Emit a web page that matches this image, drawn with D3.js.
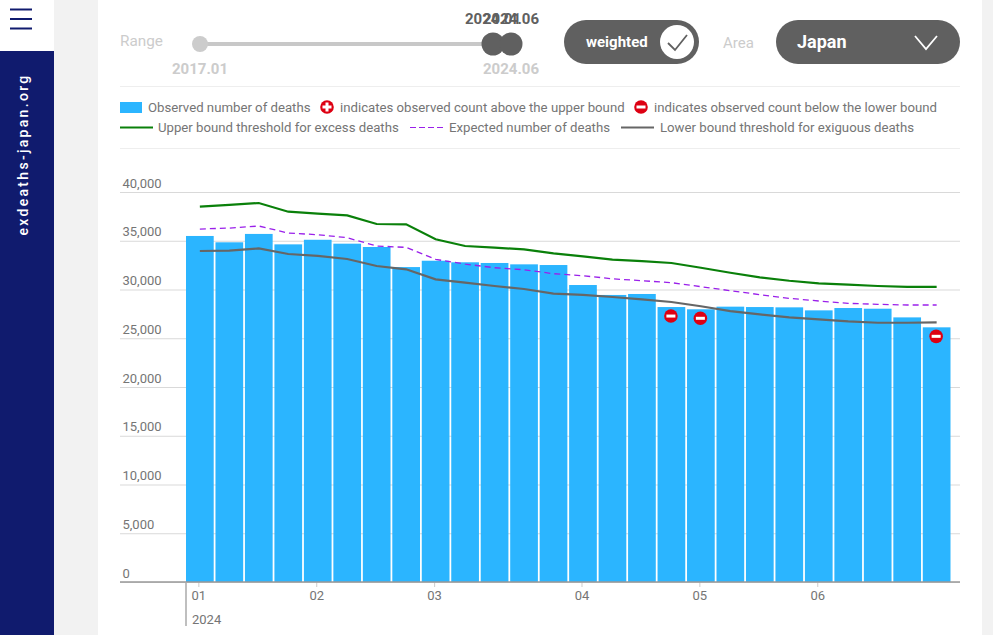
<!DOCTYPE html>
<html><head><meta charset="utf-8">
<script src="https://cdn.jsdelivr.net/npm/d3@7"></script>
<style>
html,body{margin:0;padding:0;background:#f2f2f2;overflow:hidden}
svg{display:block;font-family:Roboto,sans-serif}
</style></head><body>
<svg id="c" width="993" height="635"></svg>
<script>
const weeks = d3.range(0,26);
const observed = [35490,34840,35700,34630,35100,34700,34360,32300,32950,32790,32720,32580,32510,30460,29440,29540,28200,27970,28240,28200,28170,27860,28100,28030,27140,26120];
const upper = [38490,38670,38870,37980,37780,37600,36720,36680,35150,34460,34290,34120,33700,33390,33060,32920,32720,32230,31720,31250,30900,30630,30490,30360,30260,30260];
const expected = [36200,36300,36510,35790,35620,35310,34460,34320,33090,32610,32230,32030,31620,31410,31100,30900,30700,30290,29880,29470,29090,28820,28580,28480,28410,28410];
const lower = [33950,33980,34220,33640,33440,33130,32410,32070,31040,30700,30360,30050,29570,29440,29230,28990,28720,28280,27790,27450,27140,26940,26730,26590,26590,26630];
const belowWeeks = [16,17,25];
const monthTickWeeks = [0,4,8,13,17,21];
const monthLabels = ["01","02","03","04","05","06"];
const yTicks = [0,5000,10000,15000,20000,25000,30000,35000,40000];
const yearLabel = "2024";
const legendRow1 = ["Observed number of deaths","indicates observed count above the upper bound","indicates observed count below the lower bound"];
const legendRow2 = ["Upper bound threshold for excess deaths","Expected number of deaths","Lower bound threshold for exiguous deaths"];

const BLUE="#2bb5ff", GREEN="#0a800a", PURPLE="#9a20ea", GREY="#666", RED="#dd0012", TXT="#757575", NAVY="#101b6e", DARK="#606060", LIGHT="#cccccc";
const svg=d3.select("#c");
const rect=(x,y,w,h,f)=>svg.append("rect").attr("x",x).attr("y",y).attr("width",w).attr("height",h).attr("fill",f);
const text=(x,y,t,size,fill,weight,anchor)=>svg.append("text").attr("x",x).attr("y",y).text(t).attr("font-size",size).attr("fill",fill).attr("font-weight",weight||400).attr("text-anchor",anchor||"start");
const line=(x1,y1,x2,y2,c,w)=>svg.append("line").attr("x1",x1).attr("y1",y1).attr("x2",x2).attr("y2",y2).attr("stroke",c).attr("stroke-width",w||1);

// page chrome
rect(0,0,993,635,"#f2f2f2");
rect(98,0,884,635,"#fff");
rect(0,0,54,51,"#fff");
rect(0,51,54,584,NAVY);
[9.5,19,28.5].forEach(y=>line(10,y,32,y,NAVY,2));
text(0,0,"exdeaths-japan.org",14,"#fff",500,"middle").attr("transform","translate(28,154.5) rotate(-90)").attr("letter-spacing","2.3");

// slider
text(120,46,"Range",15.3,LIGHT);
line(200,44,511,44,"#c8c8c8",4);
svg.append("circle").attr("cx",200).attr("cy",44).attr("r",8).attr("fill",LIGHT);
[493,511].forEach(x=>svg.append("circle").attr("cx",x).attr("cy",44).attr("r",11.5).attr("fill",DARK));
text(493,24,"2024.01",15,DARK,700,"middle");
text(511,24,"2024.06",15,DARK,700,"middle");
text(200,74,"2017.01",15,LIGHT,700,"middle");
text(511,74,"2024.06",15,LIGHT,700,"middle");

// controls
rect(564,20,135,44,DARK).attr("rx",22);
text(586,47,"weighted",15,"#fff",700);
svg.append("circle").attr("cx",677).attr("cy",42).attr("r",17).attr("fill","#fff");
svg.append("path").attr("d","M668 43 L675 50 L687 35").attr("fill","none").attr("stroke",DARK).attr("stroke-width",1.8);
text(723,48,"Area",15,LIGHT);
rect(776,20,184,44,DARK).attr("rx",22);
text(797,48,"Japan",18,"#fff",700);
svg.append("path").attr("d","M915 36 L926 49 L937 36").attr("fill","none").attr("stroke","#fff").attr("stroke-width",1.8);

// separators
line(120,86.5,960,86.5,"#eeeeee");
line(120,148.5,960,148.5,"#eeeeee");

// legend
function badge(cx,cy,plus){
  svg.append("circle").attr("cx",cx).attr("cy",cy).attr("r",6.8).attr("fill",RED);
  rect(cx-4.5,cy-1.5,9,3,"#fff");
  if(plus) rect(cx-1.5,cy-4.5,3,9,"#fff");
}
rect(120,102,22,11,BLUE);
text(148,112,legendRow1[0],13.2,TXT);
badge(327,107,true);
text(340,112,legendRow1[1],13.2,TXT);
badge(641,107,false);
text(654,112,legendRow1[2],13.2,TXT);
line(120,127.5,153,127.5,GREEN,2);
text(158,132,legendRow2[0],13.2,TXT);
line(410,127.5,443,127.5,PURPLE,1.2).attr("stroke-dasharray","6 3");
text(449,132,legendRow2[1],13.2,TXT);
line(621,127.5,654,127.5,GREY,2);
text(660,132,legendRow2[2],13.2,TXT);

// scales
const x=d3.scaleBand().domain(weeks).range([186,950.5]).paddingInner(0.06).paddingOuter(0);
const y=d3.scaleLinear().domain([0,40000]).range([582,192]);
const cx=i=>x(i)+x.bandwidth()/2;

// y grid + labels
const yAxis=d3.axisLeft(y).tickValues(yTicks).tickSize(-840).tickFormat(d3.format(","));
const gy=svg.append("g").attr("transform","translate(120,0)").call(yAxis);
gy.select(".domain").remove();
gy.selectAll(".tick line").attr("stroke","#d9d9d9").attr("stroke-width",1);
gy.selectAll(".tick text").attr("x",2.5).attr("dy","-5").attr("text-anchor","start")
  .attr("font-family","Roboto,sans-serif").attr("font-size",13).attr("fill",TXT);

// bars
svg.append("g").selectAll("rect").data(observed).join("rect")
  .attr("x",(d,i)=>x(i)).attr("width",x.bandwidth())
  .attr("y",d=>y(d)).attr("height",d=>y(0)-y(d)).attr("fill",BLUE);

// lines
const path=d3.line().x((d,i)=>cx(i)).y(d=>y(d));
const drawLine=(data,color,w,dash)=>svg.append("path").datum(data).attr("d",path).attr("fill","none")
  .attr("stroke",color).attr("stroke-width",w).attr("stroke-dasharray",dash||null);
drawLine(upper,GREEN,2.2);
drawLine(expected,PURPLE,1.3,"6 4");
drawLine(lower,GREY,2.2);

// below-bound markers
belowWeeks.forEach(i=>badge(cx(i)-.5,y(observed[i])+9,false));

// x axis
const xAxis=d3.axisBottom(x).tickValues(monthTickWeeks).tickSize(5).tickSizeOuter(0).tickPadding(4)
  .tickFormat(d=>monthLabels[monthTickWeeks.indexOf(d)]);
const gx=svg.append("g").attr("transform","translate(-1,582)").call(xAxis);
gx.select(".domain").remove();
gx.selectAll(".tick line").attr("stroke","#cccccc");
gx.selectAll(".tick text").attr("font-family","Roboto,sans-serif").attr("font-size",13).attr("fill",TXT);
line(120,582,960,582,"#999",1.5);
line(186,582,186,626,"#aaa",1.5);
text(192,624,yearLabel,13,TXT);
</script>
</body></html>
